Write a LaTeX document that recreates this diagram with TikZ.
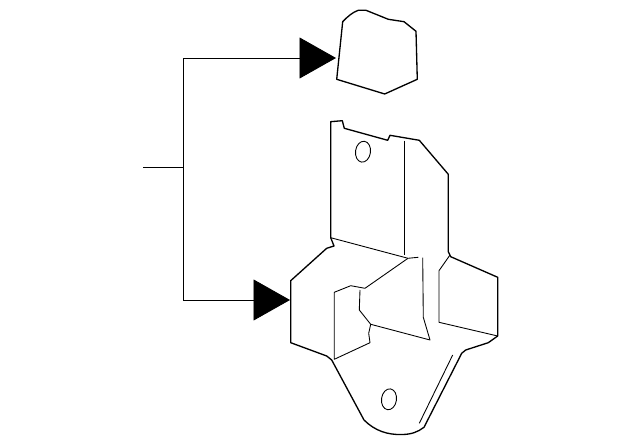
\documentclass[tikz,border=0pt]{standalone}
\usepackage{amsmath}
\usepackage{color}
\usetikzlibrary{arrows.meta}

\tikzset{
  outline/.style={line width=0.75pt, line join=round},
  detail/.style={line width=0.5pt, line join=round},
  leader/.style={line width=0.5pt, -{Triangle[length=0.73cm,width=0.82cm]}}
}

\begin{document}
\begin{tikzpicture}[x=0.02cm,y=-0.02cm]
        \useasboundingbox (0,0) rectangle (640,445);

        \coordinate (stem) at (143,167);
        \coordinate (fork) at (183,167);
        \coordinate (captip) at (336,58);
        \coordinate (brackettip) at (290,300);

        \draw[line width=0.5pt] (stem) -- (fork);
        \draw[leader] (fork) |- (captip);
        \draw[leader] (fork) |- (brackettip);

        % cap
        \draw[outline] (342.7,21.7) .. controls (347,17) and (353,12) .. (358.3,10.3) -- (366,10.3) -- (388.3,19.3)
            -- (404,21.7) -- (416,31.3) -- (417.3,79.3) -- (384.7,94) -- (336.7,79.3) -- cycle;

        % bracket
        \draw[outline] (330.7,237.7) -- (330.7,121.7) -- (342.3,120.7) -- (344.3,128.3) -- (387.7,140.3)
            -- (390,135.3) -- (419.3,140.3) -- (448.3,174.3) -- (448.3,251.7) -- (450.7,256.7)
            -- (497.7,277.3) -- (497.7,336) -- (488.3,342.7) -- (465.7,350) -- (461.7,353.3)
            -- (424,427.3) .. controls (418,432) and (411,434.5) .. (402,434.5)
            .. controls (388,435) and (375,431) .. (364,420)
            -- (331.7,360) -- (326.7,356) -- (290.7,342.7) -- (290.7,280.7) -- (326.7,248.3)
            -- (334,246) -- cycle;

        \draw[detail] (330.7,237.7) -- (408,258.3) -- (418.3,257.3);
        \draw[detail] (404.3,140.7) -- (404.3,255);
        \draw[detail] (408,258.3) -- (365,288.3) -- (350.7,285.7) -- (334.3,292.3) -- (334.3,359.3)
            -- (370,342.7) -- (368.7,333.3) -- (370.7,324.3);
        \draw[detail] (360,290) -- (359.3,310) -- (370.7,324.3) -- (430,340) -- (423.3,317.3) -- (422.7,257.7);
        \draw[detail] (450,255) -- (439,270.7) -- (439,322.3) -- (497.7,336);
        \draw[detail] (452.7,355) -- (419.3,423.3);

        % holes
        \draw[detail] (363,151.7) ellipse [x radius=7.5, y radius=10.5, rotate=-8];
        \draw[detail] (389,399.3) ellipse [x radius=7.5, y radius=10.5, rotate=-8];

    \end{tikzpicture}
\end{document}
